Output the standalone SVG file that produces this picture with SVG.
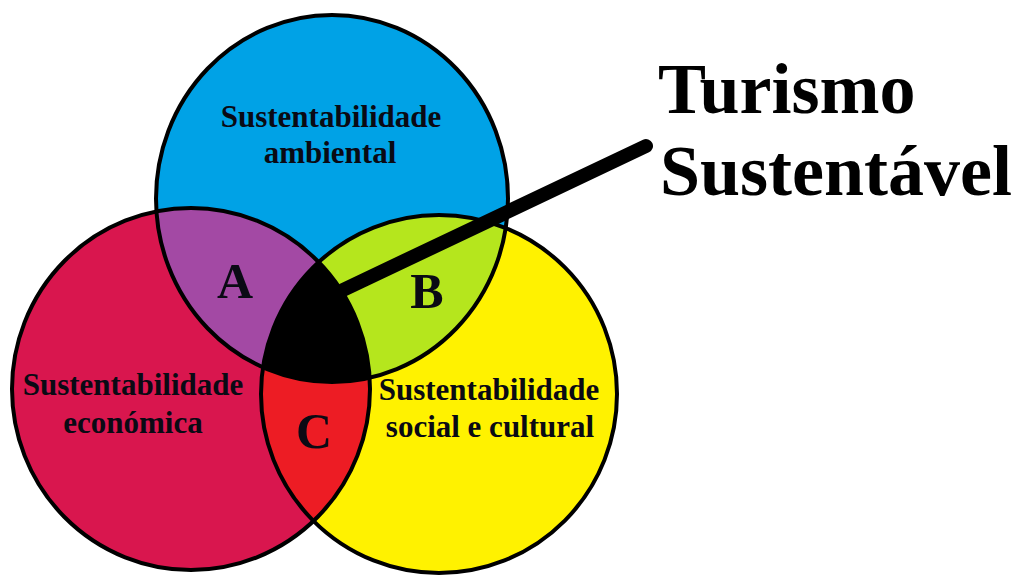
<svg xmlns="http://www.w3.org/2000/svg" width="1021" height="576" viewBox="0 0 1021 576">
  <style>
    .outline { fill: none; stroke: #000; stroke-width: 4; }
    .lbl { font-family: "Liberation Serif", "Times New Roman", serif; font-weight: bold; font-size: 31px; fill: #0a0a14; text-anchor: middle; }
    .big { font-family: "Liberation Serif", "Times New Roman", serif; font-weight: bold; font-size: 72px; fill: #000; }
    .letter { font-family: "Liberation Serif", "Times New Roman", serif; font-weight: bold; font-size: 50px; fill: #0a0a14; text-anchor: middle; }
  </style>
  <defs>
    <ellipse id="eBlue" cx="332" cy="198.5" rx="176" ry="183.5"/>
    <ellipse id="eRed" cx="191" cy="389" rx="179" ry="181"/>
    <ellipse id="eYellow" cx="439" cy="394" rx="178" ry="179"/>
    <clipPath id="cBlue"><use href="#eBlue"/></clipPath>
    <clipPath id="cRed"><use href="#eRed"/></clipPath>
    <clipPath id="cYellow"><use href="#eYellow"/></clipPath>
  </defs>
  <rect width="1021" height="576" fill="#fff"/>

  <g id="ambiental">
    <use href="#eBlue" fill="#00A2E6"/>
  </g>
  <g id="economica">
    <use href="#eRed" fill="#D9164E"/>
  </g>
  <g id="social">
    <use href="#eYellow" fill="#FFF200"/>
  </g>
  <g id="regionA">
    <g clip-path="url(#cBlue)"><use href="#eRed" fill="#A349A4"/></g>
  </g>
  <g id="regionB">
    <g clip-path="url(#cBlue)"><use href="#eYellow" fill="#B5E61D"/></g>
  </g>
  <g id="regionC">
    <g clip-path="url(#cRed)"><use href="#eYellow" fill="#ED1C24"/></g>
  </g>
  <g id="centro">
    <g clip-path="url(#cBlue)"><g clip-path="url(#cRed)"><use href="#eYellow" fill="#000"/></g></g>
  </g>
  <g id="outlines">
    <use href="#eBlue" class="outline"/>
    <use href="#eRed" class="outline"/>
    <use href="#eYellow" class="outline"/>
  </g>

  <g id="labels">
    <text class="lbl" x="331" y="127">Sustentabilidade</text>
    <text class="lbl" x="330" y="163">ambiental</text>
    <text class="lbl" x="133" y="395">Sustentabilidade</text>
    <text class="lbl" x="133" y="433">económica</text>
    <text class="lbl" x="489" y="400">Sustentabilidade</text>
    <text class="lbl" x="490" y="437">social e cultural</text>
    <text class="letter" x="235" y="298">A</text>
    <text class="letter" x="427" y="308">B</text>
    <text class="letter" x="314" y="448">C</text>
  </g>

  <g id="connectors">
    <line x1="343" y1="290" x2="646" y2="146" stroke="#000" stroke-width="14" stroke-linecap="round"/>
  </g>

  <g id="title">
    <text class="big" x="658" y="113">Turismo</text>
    <text class="big" x="660" y="195">Sustentável</text>
  </g>
</svg>
